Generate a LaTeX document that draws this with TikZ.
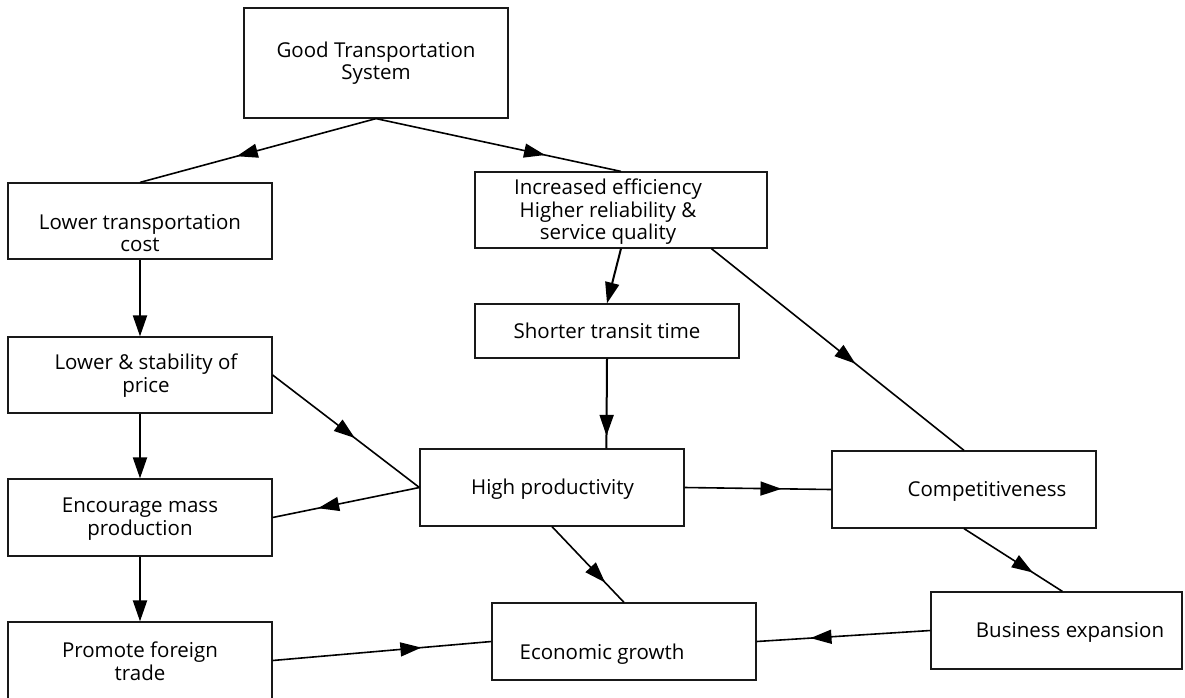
\documentclass[tikz,border=0pt]{standalone}
\usepackage{fontspec}
\setmainfont{Open Sans}
\usetikzlibrary{arrows.meta,decorations.markings,calc}
\begin{document}
\begin{tikzpicture}[x=1pt,y=-1pt,
  box/.style={draw=black!90, line width=1.2pt, fill=white, inner sep=0pt},
  txt/.style={align=center, inner sep=0pt, font=\fontsize{20.5}{22.5}\selectfont, text=black},
  conn/.style={line width=1.6pt, draw=black},
  thick conn/.style={line width=2pt, draw=black},
  tipshape/.tip={Triangle[length=21pt,width=14pt]},
  endarrow/.style={thick conn, -tipshape},
  midarrow/.style={conn, postaction={decorate}, decoration={markings, mark=at position #1 with {\arrow{tipshape}}}}
]
\useasboundingbox (0,0) rectangle (1185,697);
\fill[white] (0,0) rectangle (1185,697);

% boxes
\node[box, minimum width=264pt, minimum height=110pt] (gts) at (376,63) {};
\node[box, minimum width=264pt, minimum height=76pt] (ltc) at (140,221) {};
\node[box, minimum width=292pt, minimum height=76pt] (ie) at (621,210) {};
\node[box, minimum width=264pt, minimum height=76pt] (lsp) at (140,375) {};
\node[box, minimum width=264pt, minimum height=54pt] (stt) at (607,331) {};
\node[box, minimum width=264pt, minimum height=77pt] (emp) at (140,517.5) {};
\node[box, minimum width=264pt, minimum height=77pt] (hp) at (552,487.5) {};
\node[box, minimum width=264pt, minimum height=77pt] (comp) at (964,489.5) {};
\node[box, minimum width=251pt, minimum height=77pt] (be) at (1056.5,630.5) {};
\node[box, minimum width=264pt, minimum height=77pt] (eg) at (624,641.5) {};
\node[box, minimum width=264pt, minimum height=77pt] (pft) at (140,660.5) {};

% texts
\node[txt] (gtsT) at (376,63) {Good Transportation\\System};
\node[txt] (ltcT) at (140,233) {Lower transportation\\cost};
\node[txt] (ieT) at (608,212) {Increased efficiency\\Higher reliability \&\\service quality};
\node[txt] (lspT) at (146,375.5) {Lower \& stability of\\price};
\node[txt] (sttT) at (607,331) {Shorter transit time};
\node[txt] (empT) at (140,519) {Encourage mass\\production};
\node[txt] (hpT) at (552.5,489) {High productivity};
\node[txt] (compT) at (987,491) {Competitiveness};
\node[txt] (beT) at (1070,632) {Business expansion};
\node[txt] (egT) at (602,654) {Economic growth};
\node[txt] (pftT) at (140,661) {Promote foreign\\trade};

% connectors
\draw[midarrow=0.59] (gts.south) -- (ltc.north);
\draw[midarrow=0.69] (gts.south) -- (ie.north);
\draw[endarrow] (ltc.south) -- (lsp.north);
\draw[endarrow] (lsp.south) -- (emp.north);
\draw[endarrow] (emp.south) -- (pft.north);
\draw[midarrow=0.56] (lsp.east) -- (hp.west);
\draw[midarrow=0.69] (hp.west) -- (emp.east);
\draw[midarrow=0.68] (pft.east) -- (eg.west);
\draw[endarrow] (ie.south) -- (stt.north);
\coordinate (hpIn) at ($(hp.north west)+(187,0)$);
\draw[midarrow=0.86, line width=2pt] (stt.south) -- (hpIn);
\coordinate (ieOut) at ($(ie.south west)+(237,0)$);
\draw[midarrow=0.57] (ieOut) -- (comp.north);
\draw[midarrow=0.66] (hp.east) -- (comp.west);
\coordinate (beIn) at ($(be.north west)+(132,0)$);
\draw[midarrow=0.70] (comp.south) -- (beIn);
\draw[midarrow=0.69] (be.west) -- (eg.east);
\draw[midarrow=0.74] (hp.south) -- (eg.north);
\end{tikzpicture}
\end{document}
